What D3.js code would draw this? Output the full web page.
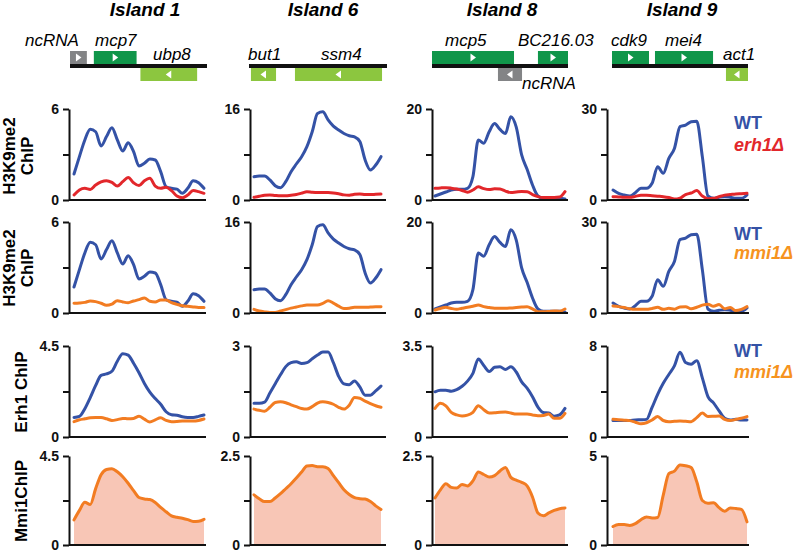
<!DOCTYPE html>
<html><head><meta charset="utf-8">
<script src="https://cdn.jsdelivr.net/npm/d3@7"></script>
<style>body{margin:0;background:#fff}svg{display:block;font-family:Arial,"Liberation Sans",Helvetica,sans-serif}</style>
</head><body><svg id="chart" width="800" height="553"></svg>
<script>
// ---------- DATA ----------
const islands = ["Island 1", "Island 6", "Island 8", "Island 9"];
const h3k9Max = [6, 16, 20, 30];
const erh1Max = [4.5, 3, 3.5, 8];
const mmi1Max = [4.5, 2.5, 2.5, 5];

// WT H3K9me2 ChIP (same WT profile shown in rows 1 and 2)
const wtH3K9 = [
  [1.71,2.86,3.96,4.66,4.5,3.56,4.18,4.77,3.96,3.23,3.78,3.19,2.24,2.42,2.7,2.64,1.87,0.88,0.77,0.72,0.44,0.77,1.27,1.14,0.77],
  [4.10,4.22,4.22,3.52,2.52,2.17,3.22,4.98,6.33,7.62,9.38,12.0,15.2,15.5,14.1,13.0,12.3,11.7,11.3,11.1,10.3,7.03,5.27,6.15,7.62],
  [0.88,1.32,1.76,2.20,2.34,2.34,2.56,5.13,13.2,12.5,15.0,16.8,15.5,14.6,18.3,16.0,9.9,6.74,3.30,0.88,0.37,0.37,0.37,0.37,0.22],
  [3.30,2.20,1.65,1.32,2.42,3.85,3.85,5.49,11.0,8.79,13.7,17.0,24.2,24.7,25.8,26.0,14.3,1.32,0.55,0.88,1.10,0.88,0.55,0.55,1.65]
];
// erh1Δ H3K9me2 ChIP
const erh1H3K9 = [
  [0.33,0.66,0.77,0.70,0.99,1.19,1.27,1.16,0.92,1.21,1.49,1.14,0.95,1.27,1.43,0.92,0.77,0.84,0.62,0.26,0.15,0.33,0.62,0.55,0.44],
  [0.47,0.65,0.85,0.88,0.80,0.75,0.75,0.85,0.95,1.20,1.45,1.35,1.30,1.30,1.30,1.25,1.10,0.90,0.85,1.00,1.05,0.95,0.95,1.00,1.05],
  [2.56,2.65,2.71,2.60,2.40,2.10,1.70,2.20,2.90,2.50,2.30,2.45,2.40,1.95,1.65,1.75,1.85,1.80,1.20,0.75,0.55,0.55,0.55,0.65,1.83],
  [1.10,1.00,0.90,0.88,1.20,1.60,1.55,1.40,1.25,1.10,0.80,0.30,0.60,1.80,2.30,3.10,1.30,0.45,0.55,1.10,1.60,1.80,2.00,2.10,2.20]
];
// mmi1Δ H3K9me2 ChIP
const mmi1H3K9 = [
  [0.64,0.66,0.70,0.79,0.75,0.64,0.51,0.59,0.81,0.73,0.68,0.79,0.88,0.99,0.77,0.73,0.86,0.86,0.68,0.57,0.48,0.44,0.40,0.37,0.37],
  [0.64,0.35,0.20,0.10,0.10,0.35,0.60,0.85,1.05,1.25,1.40,1.40,1.40,1.70,2.15,1.75,1.20,0.80,0.85,1.00,1.00,1.00,1.05,1.10,1.11],
  [0.66,1.00,1.25,1.00,0.85,1.05,1.25,1.50,1.76,1.40,1.20,1.05,1.03,1.03,1.10,1.20,1.30,1.39,0.90,0.30,0.29,0.35,0.45,0.40,0.88],
  [2.31,2.10,1.80,1.40,1.21,1.20,1.21,1.50,1.87,1.21,1.54,1.25,2.00,2.10,1.40,1.90,2.60,2.90,2.20,2.80,1.40,1.80,0.80,1.20,2.09]
];
// Erh1 ChIP, WT
const wtErh1 = [
  [0.97,1.02,1.40,1.95,2.55,3.05,3.12,3.25,3.75,4.12,4.05,3.65,3.18,2.65,2.22,1.90,1.62,1.25,1.10,1.08,1.00,0.97,0.97,1.02,1.09],
  [1.11,1.11,1.15,1.45,1.75,2.05,2.32,2.45,2.48,2.42,2.45,2.58,2.70,2.80,2.80,2.45,2.00,1.75,1.72,1.85,1.65,1.38,1.38,1.52,1.68],
  [1.74,1.80,1.80,1.76,1.82,1.95,2.15,2.45,3.00,2.75,2.52,2.68,2.70,2.60,2.70,2.50,2.12,1.88,1.55,1.15,0.94,0.92,0.80,0.85,1.10],
  [1.44,1.44,1.44,1.46,1.50,1.52,1.55,2.60,3.75,4.72,5.50,6.25,7.45,6.55,6.40,6.71,5.20,3.55,3.00,2.30,1.65,1.50,1.55,1.50,1.49]
];
// Erh1 ChIP, mmi1Δ
const mmi1Erh1 = [
  [0.76,0.85,0.90,0.95,0.97,0.96,0.90,0.82,0.86,0.92,0.90,0.92,1.02,0.88,0.74,0.85,0.95,0.82,0.76,0.77,0.79,0.79,0.79,0.82,0.89],
  [0.92,0.88,0.85,0.98,1.14,1.16,1.13,1.06,1.00,0.94,0.92,1.00,1.12,1.16,1.14,1.08,0.98,0.92,1.05,1.30,1.28,1.18,1.10,1.03,0.98],
  [1.10,1.30,1.20,0.95,0.85,0.81,0.84,0.95,1.20,1.05,0.92,0.93,0.95,0.96,0.92,0.88,0.88,0.88,0.85,0.82,0.83,0.88,0.72,0.72,0.91],
  [1.55,1.52,1.48,1.44,1.30,1.16,1.25,1.50,1.80,1.45,1.35,1.38,1.41,1.38,1.35,1.70,2.10,1.80,1.82,1.85,1.55,1.45,1.55,1.65,1.79]
];
// Mmi1 ChIP
const mmi1ChIP = [
  [1.27,1.75,2.16,2.05,2.85,3.55,3.82,3.86,3.70,3.45,3.12,2.75,2.40,2.33,2.30,2.15,1.90,1.68,1.47,1.40,1.35,1.28,1.19,1.20,1.30],
  [1.41,1.30,1.22,1.22,1.32,1.44,1.58,1.72,1.88,2.05,2.22,2.23,2.20,2.20,2.15,1.95,1.75,1.55,1.42,1.33,1.30,1.29,1.22,1.10,1.00],
  [1.32,1.55,1.72,1.62,1.60,1.70,1.66,1.80,2.05,1.98,1.91,1.95,2.08,2.18,1.90,1.82,1.76,1.66,1.35,0.90,0.82,0.90,0.97,1.02,1.04],
  [1.04,1.15,1.15,1.10,1.20,1.42,1.58,1.52,1.55,2.80,4.01,4.15,4.50,4.45,4.35,3.55,2.50,2.35,2.38,2.10,1.90,2.08,2.05,2.00,1.30]
];
// Gene models: [name, start, end, strand(+1 top/-1 bottom), type] in relative locus coordinates 0..1
const genes = [
  [["ncRNA",0.0,0.123,1,"nc"],["mcp7",0.174,0.486,1,"dark"],["ubp8",0.514,0.928,-1,"light"]],
  [["but1",0.014,0.196,-1,"light"],["ssm4",0.333,0.964,-1,"light"]],
  [["mcp5",0.0,0.603,1,"dark"],["ncRNA",0.485,0.662,-1,"nc"],["BC216.03",0.779,1.0,1,"dark"]],
  [["cdk9",0.0,0.272,1,"dark"],["mei4",0.316,0.743,1,"dark"],["act1",0.838,1.0,-1,"light"]]
];

// ---------- LAYOUT ----------
const colAxisX = [69, 250, 432, 607];
const colBaseEnd = [206, 386, 568, 749];
const colData = [[74, 204], [254, 381], [435, 565], [613, 747]];
const geneLine = [[70, 207], [249, 387], [432, 568], [612, 748]];
const titleX = [145, 323, 502, 682];
const rowY = [[109, 200], [222, 313], [346, 437], [456, 545]];
// gene label positions (x start, baseline)
const geneLabelPos = [
  [[25, 46], [95, 46], [153, 60]],
  [[248, 60], [321, 60]],
  [[445, 46], [522, 89], [518, 46]],
  [[611, 46], [665, 46], [723, 60]]
];
const C = {
  blue: "#3452a6", red: "#e2272b", orange: "#f27c22", orangeTxt: "#f6931e",
  fill: "#f8c6b6", dark: "#10964a", light: "#8cc63f", nc: "#838486"
};

const svg = d3.select("#chart");

// titles
svg.selectAll("text.title").data(islands).join("text")
  .attr("x", (d, i) => titleX[i]).attr("y", 16)
  .attr("text-anchor", "middle").attr("font-size", 19).attr("font-weight", "bold")
  .attr("font-style", "italic").text(d => d);

// gene tracks
genes.forEach((gs, c) => {
  const gx = d3.scaleLinear().domain([0, 1]).range(geneLine[c]);
  const g = svg.append("g");
  gs.forEach((gene, k) => {
    const [name, s, e, strand, type] = gene;
    const y0 = strand > 0 ? 51 : 68, h = 13;
    g.append("rect").attr("x", gx(s)).attr("y", y0).attr("width", gx(e) - gx(s)).attr("height", h)
      .attr("fill", C[type]);
    const cx = (gx(s) + gx(e)) / 2, cy = y0 + h / 2;
    const pts = strand > 0
      ? [[cx - 2.5, cy - 4], [cx + 3, cy], [cx - 2.5, cy + 4]]
      : [[cx + 2.5, cy - 4], [cx - 3, cy], [cx + 2.5, cy + 4]];
    g.append("path").attr("d", d3.line()(pts) + "Z").attr("fill", "#fff");
    const lp = geneLabelPos[c][k];
    g.append("text").attr("x", lp[0]).attr("y", lp[1]).attr("font-size", 17)
      .attr("font-style", "italic").text(name);
  });
  g.append("rect").attr("x", geneLine[c][0]).attr("y", 64).attr("width", geneLine[c][1] - geneLine[c][0])
    .attr("height", 4).attr("fill", "#111");
});

// panels
const rows = [
  {max: h3k9Max, series: [[wtH3K9, C.blue], [erh1H3K9, C.red]]},
  {max: h3k9Max, series: [[wtH3K9, C.blue], [mmi1H3K9, C.orange]]},
  {max: erh1Max, series: [[wtErh1, C.blue], [mmi1Erh1, C.orange]]},
  {max: mmi1Max, series: [[mmi1ChIP, C.orange]], area: true}
];
const fmt = v => String(v);
rows.forEach((row, r) => {
  islands.forEach((isl, c) => {
    const mx = row.max[c];
    const y = d3.scaleLinear().domain([0, mx]).range([rowY[r][1], rowY[r][0]]);
    const n = row.series[0][0][c].length;
    const x = d3.scaleLinear().domain([0, n - 1]).range(colData[c]);
    const g = svg.append("g");
    if (row.area) {
      const vals = row.series[0][0][c];
      g.append("path").datum(vals)
        .attr("d", d3.area().x((d, i) => x(i)).y0(y(0)).y1(d => y(d)).curve(d3.curveMonotoneX))
        .attr("fill", C.fill);
    }
    row.series.forEach(([arr, col]) => {
      g.append("path").datum(arr[c])
        .attr("d", d3.line().x((d, i) => x(i)).y(d => y(d)).curve(d3.curveMonotoneX))
        .attr("fill", "none").attr("stroke", col).attr("stroke-width", 3)
        .attr("stroke-linejoin", "round").attr("stroke-linecap", "round");
    });
    // baseline
    g.append("line").attr("x1", colAxisX[c]).attr("x2", colBaseEnd[c])
      .attr("y1", y(0)).attr("y2", y(0)).attr("stroke", "#111").attr("stroke-width", 2);
    const ax = g.append("g").attr("transform", `translate(${colAxisX[c]},0)`)
      .call(d3.axisLeft(y).tickValues([0, mx / 2, mx]).tickSize(6).tickSizeOuter(0).tickPadding(4)
        .tickFormat(d => (d === 0 || d === mx) ? fmt(d) : ""));
    ax.select(".domain").attr("stroke", "#111").attr("stroke-width", 2);
    ax.selectAll(".tick line").attr("stroke", "#111").attr("stroke-width", 2);
    ax.selectAll(".tick text").attr("font-size", 14).attr("font-weight", "bold")
      .attr("fill", "#111").attr("font-family", "Arial, Liberation Sans, sans-serif");
  });
});

// y-axis labels
const yLab = [
  {lines: [["H3K9me2", 15], ["ChIP", 33]], cy: 156},
  {lines: [["H3K9me2", 15], ["ChIP", 33]], cy: 268},
  {lines: [["Erh1 ChIP", 27]], cy: 392},
  {lines: [["Mmi1ChIP", 27]], cy: 501}
];
yLab.forEach(l => l.lines.forEach(([t, bx]) => {
  svg.append("text").attr("transform", `translate(${bx},${l.cy}) rotate(-90)`)
    .attr("text-anchor", "middle").attr("font-size", 17).attr("font-weight", "bold").text(t);
}));

// legends
const legends = [
  [["WT", C.blue, false, 129], ["erh1Δ", C.red, true, 151]],
  [["WT", C.blue, false, 240], ["mmi1Δ", C.orangeTxt, true, 259]],
  [["WT", C.blue, false, 357], ["mmi1Δ", C.orangeTxt, true, 378]]
];
legends.forEach(ls => ls.forEach(([t, col, it, by]) => {
  svg.append("text").attr("x", 734).attr("y", by).attr("font-size", 18).attr("font-weight", "bold")
    .attr("font-style", it ? "italic" : "normal").attr("fill", col).text(t);
}));
</script></body></html>
